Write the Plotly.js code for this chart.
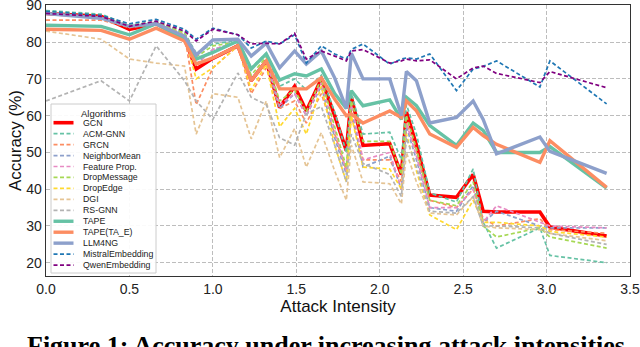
<!DOCTYPE html>
<html>
<head>
<meta charset="utf-8">
<script src="https://cdn.plot.ly/plotly-3.0.1.min.js"></script>
<style>
  html, body { margin: 0; padding: 0; background: #fff; }
  #chart { width: 640px; height: 347px; }
</style>
</head>
<body>
<div id="chart"></div>
<script>
// Accuracy vs attack intensity

const intensity = [0, 0.33, 0.5, 0.66, 0.83, 0.9, 1.0, 1.15, 1.23, 1.32, 1.4, 1.49, 1.56, 1.65, 1.73,
                   1.8, 1.83, 1.9, 2.06, 2.13, 2.16, 2.22, 2.3, 2.46, 2.56, 2.62, 2.7, 2.96, 3.02, 3.36];

const gcn          = [87.8, 87, 83.5, 85, 81, 72.7, 75.6, 79, 69.5, 74.9, 62.2, 68, 61.3, 70, 60, 50.5, 65, 51.9, 52.4, 44, 61, 52, 38.4, 37.8, 44, 34, 33.8, 33.8, 29.7, 27.3];
const acmGnn       = [88.6, 87.6, 84.6, 85.6, 82.6, 77, 79.5, 80.5, 73, 77, 68, 70, 67, 71, 61, 50, 66, 55, 55.5, 48, 63, 55, 39, 36.5, 45.5, 31, 24, 29.5, 22, 20];
const grcn         = [86, 86, 84, 85.5, 82, 63, 73, 79, 66, 73, 62, 64, 58, 66, 55, 45, 60, 48, 48, 42, 58, 50, 37, 35, 40, 32, 30, 32, 29, 28];
const neighborMean = [88, 87, 84, 85.5, 82, 74, 78, 80, 70, 75, 62, 66, 60, 68, 54, 44, 62, 46, 49, 40, 57, 48, 35, 34, 41, 31, 34, 30, 29.5, 29.5];
const featureProp  = [88, 87, 84.5, 85.5, 82, 74, 78, 80, 70, 75, 63, 66, 60, 69, 56, 45, 63, 48, 50, 40, 58, 49, 35, 35, 40, 31, 35.5, 31, 30, 29.5];
const dropMessage  = [88.3, 87.3, 84.5, 85.5, 82.5, 76, 79, 80, 71, 76, 64, 67, 61, 70, 57, 46, 64, 53, 53, 44, 60, 51, 37, 35.5, 42, 30, 27, 29.5, 27, 24];
const dropEdge     = [88, 87, 84, 85, 82, 70, 73, 79, 67, 74, 57, 62, 55, 68, 52, 42, 60, 46, 45.5, 40, 55, 45, 33, 29, 37, 31, 31, 30, 28.5, 27];
const dgi          = [83, 80.8, 75.4, 74.3, 73.5, 55, 66, 65, 53.7, 64, 48.6, 56.5, 46, 55.4, 45, 37, 52, 42, 41.5, 36, 50, 42, 33.5, 33, 38, 30, 29.5, 29, 28, 26];
const rsGnn        = [64, 69.5, 64, 79, 69.5, 64, 59, 71.6, 65, 63, 54, 52, 60.5, 62.5, 52, 42, 55, 47, 44, 38, 54, 46, 34, 33.5, 38, 30, 30, 29.5, 28, 25];
const tape         = [84.6, 84.3, 82, 85, 80.8, 75.4, 77.2, 80.3, 72.7, 76.8, 69.7, 71.4, 70.8, 72.7, 66, 62, 66.8, 62.7, 64.3, 59, 65, 62.7, 57.3, 51.9, 58, 56, 50, 50, 51.6, 40.3];
const tapeTAE      = [83.5, 83.2, 80.8, 83.8, 80.3, 74, 75.7, 79, 69.5, 74.9, 67.3, 67.3, 67.3, 70.3, 64.5, 60, 60.5, 58, 61.3, 59.5, 64, 61.3, 55, 51.4, 56.8, 54.6, 52.2, 47.3, 53.2, 40.5];
const llm4ng       = [87.8, 86.5, 84.3, 85, 81.6, 76.5, 80.6, 80.8, 76.2, 79.7, 73, 77.6, 74, 77.6, 70.3, 62, 77, 70, 70, 60, 72, 69.5, 58, 59.5, 64, 59, 49.6, 54.2, 50.3, 44.3];
const mistral      = [88.4, 87.3, 85, 86.2, 83.5, 80.8, 83.8, 82, 78.4, 80.3, 79.5, 82, 74.3, 79, 76.8, 75.4, 78, 79.5, 74, 75.4, 75.7, 75.4, 76.8, 66.8, 72.7, 73.4, 74.9, 67.8, 74.9, 63.2];
const qwen         = [87.8, 87, 84.3, 85.7, 83, 80.3, 83.5, 82, 79.5, 79.7, 79.5, 82.4, 75.4, 77.6, 76.2, 74.9, 77.6, 78, 74.3, 74.9, 75.4, 74.9, 75.2, 70, 73, 73.5, 71.5, 69, 72, 67.6];

const yTicks = [20, 30, 40, 50, 60, 70, 80, 90];
const xTicks = [0, 0.5, 1.0, 1.5, 2.0, 2.5, 3.0, 3.5];

// ── series styling (legend order) ─────────────────────────────
const DASH = '4px,2.5px';
const series = [
  { name: 'GCN',             y: gcn,          color: '#ff0000', width: 3.6, dash: 'solid' },
  { name: 'ACM-GNN',         y: acmGnn,       color: '#66c2a5', width: 1.7, dash: DASH },
  { name: 'GRCN',            y: grcn,         color: '#fc8d62', width: 1.7, dash: DASH },
  { name: 'NeighborMean',    y: neighborMean, color: '#8da0cb', width: 1.7, dash: DASH },
  { name: 'Feature Prop.',   y: featureProp,  color: '#e78ac3', width: 1.7, dash: DASH },
  { name: 'DropMessage',     y: dropMessage,  color: '#a6d854', width: 1.7, dash: DASH },
  { name: 'DropEdge',        y: dropEdge,     color: '#ffd92f', width: 1.7, dash: DASH },
  { name: 'DGI',             y: dgi,          color: '#e5c494', width: 1.7, dash: DASH },
  { name: 'RS-GNN',          y: rsGnn,        color: '#b3b3b3', width: 1.7, dash: DASH },
  { name: 'TAPE',            y: tape,         color: '#66c2a5', width: 3.4, dash: 'solid' },
  { name: 'TAPE(TA_E)',      y: tapeTAE,      color: '#fc8d62', width: 3.4, dash: 'solid' },
  { name: 'LLM4NG',          y: llm4ng,       color: '#8da0cb', width: 3.4, dash: 'solid' },
  { name: 'MistralEmbedding', y: mistral,     color: '#1f77b4', width: 1.7, dash: DASH },
  { name: 'QwenEmbedding',   y: qwen,         color: '#800080', width: 1.7, dash: DASH }
];

const traces = series.map(s => ({
  x: intensity, y: s.y,
  type: 'scatter', mode: 'lines',
  name: s.name,
  line: { color: s.color, width: s.width, dash: s.dash },
  showlegend: false,
  hovertemplate: '%{x}: %{y}%<extra>' + s.name + '</extra>'
}));

// ── hand-built legend (matplotlib-style, tight rows) ─────────
const W = 640, H = 347;
const M = { l: 46, r: 10, t: 5, b: 71 };
const px2x = px => (px - M.l) / (W - M.l - M.r);
const px2y = py => (H - M.b - py) / (H - M.t - M.b);

const shapes = [{
  type: 'rect', xref: 'paper', yref: 'paper', layer: 'above',
  x0: px2x(51), x1: px2x(156), y0: px2y(273), y1: px2y(104),
  fillcolor: 'rgba(255,255,255,0.92)', line: { color: '#cccccc', width: 1 }
}];
const annotations = [{
  xref: 'paper', yref: 'paper', x: px2x(103), y: px2y(113),
  text: 'Algorithms', showarrow: false, xanchor: 'center', yanchor: 'middle',
  font: { size: 9.5, color: '#222' }
}];
series.forEach((s, i) => {
  const yy = 122.7 + i * 10.95;
  shapes.push({
    type: 'line', xref: 'paper', yref: 'paper', layer: 'above',
    x0: px2x(53.5), x1: px2x(73.5), y0: px2y(yy), y1: px2y(yy),
    line: { color: s.color, width: s.width, dash: s.dash }
  });
  annotations.push({
    xref: 'paper', yref: 'paper', x: px2x(80.5), y: px2y(yy),
    text: s.name, showarrow: false, xanchor: 'left', yanchor: 'middle',
    font: { size: 8.8, color: '#222' }
  });
});

// figure caption, cut by the bottom edge in the reference
annotations.push({
  xref: 'paper', yref: 'paper', x: px2x(326), y: px2y(329),
  text: '<b>Figure 1: Accuracy under increasing attack intensities</b>',
  showarrow: false, xanchor: 'center', yanchor: 'top',
  font: { family: 'Liberation Serif, Times New Roman, serif', size: 26, color: '#000' }
});

const gridStyle = { showgrid: true, gridcolor: '#bdbdbd', gridwidth: 1, griddash: '4px,2px' };

const layout = {
  width: W, height: H,
  margin: M,
  paper_bgcolor: '#ffffff',
  plot_bgcolor: '#ffffff',
  font: { family: 'Liberation Sans, Arial, sans-serif', color: '#222' },
  showlegend: false,
  xaxis: Object.assign({
    range: [0, 3.5], tickvals: xTicks, ticktext: xTicks.map(v => v.toFixed(1)),
    ticks: '', tickfont: { size: 14, color: '#222' }, ticklabeloverflow: 'allow',
    showline: true, mirror: true, linecolor: '#333', linewidth: 1.3, zeroline: false,
    title: { text: 'Attack Intensity', font: { size: 17, color: '#111' }, standoff: 4 },
    automargin: false
  }, gridStyle),
  yaxis: Object.assign({
    range: [16.4, 90.1], tickvals: yTicks,
    ticks: '', tickfont: { size: 14, color: '#222' }, ticklabeloverflow: 'allow',
    showline: true, mirror: true, linecolor: '#333', linewidth: 1.3, zeroline: false,
    title: { text: 'Accuracy (%)', font: { size: 17, color: '#111' }, standoff: 0 },
    automargin: false
  }, gridStyle),
  shapes, annotations
};

Plotly.newPlot('chart', traces, layout, { displayModeBar: false, staticPlot: true });
</script>
</body>
</html>
